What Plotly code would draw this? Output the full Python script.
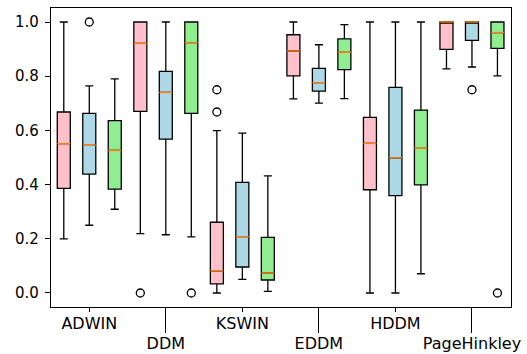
import plotly.graph_objects as go

detectors = ["ADWIN", "DDM", "KSWIN", "EDDM", "HDDM", "PageHinkley"]

# three series per detector (pink, blue, green): box statistics
pink_low    = [0.200, 0.219, 0.000, 0.716, 0.000, 0.827]
pink_q1     = [0.386, 0.670, 0.034, 0.801, 0.381, 0.899]
pink_median = [0.551, 0.921, 0.082, 0.893, 0.552, 1.000]
pink_q3     = [0.668, 1.000, 0.261, 0.953, 0.648, 1.000]
pink_high   = [1.000, 1.000, 0.599, 1.000, 1.000, 1.000]
pink_outliers = [[], [0.0], [0.750, 0.668], [], [], []]

blue_low    = [0.250, 0.215, 0.050, 0.701, 0.000, 0.834]
blue_q1     = [0.439, 0.568, 0.096, 0.745, 0.359, 0.932]
blue_median = [0.545, 0.740, 0.208, 0.776, 0.499, 1.000]
blue_q3     = [0.663, 0.818, 0.408, 0.829, 0.759, 1.000]
blue_high   = [0.764, 1.000, 0.590, 0.916, 1.000, 1.000]
blue_outliers = [[1.0], [], [], [], [], [0.750]]

green_low    = [0.309, 0.207, 0.006, 0.717, 0.071, 0.801]
green_q1     = [0.383, 0.663, 0.048, 0.824, 0.399, 0.903]
green_median = [0.526, 0.924, 0.074, 0.888, 0.534, 0.961]
green_q3     = [0.636, 1.000, 0.205, 0.938, 0.675, 1.000]
green_high   = [0.790, 1.000, 0.432, 0.990, 1.000, 1.000]
green_outliers = [[], [0.0], [], [], [], [0.0]]

y_ticks = [0.0, 0.2, 0.4, 0.6, 0.8, 1.0]

series = [
    ("pink", pink_low, pink_q1, pink_median, pink_q3, pink_high, pink_outliers),
    ("lightblue", blue_low, blue_q1, blue_median, blue_q3, blue_high, blue_outliers),
    ("lightgreen", green_low, green_q1, green_median, green_q3, green_high, green_outliers),
]

offsets = [-0.333, 0.0, 0.333]
box_w = 0.17
font = "DejaVu Sans"

fig = go.Figure()
pos_group = list(range(1, len(detectors) + 1))

for (color, lo, q1, med, q3, hi, outs), off in zip(series, offsets):
    xs = [p + off for p in pos_group]
    fig.add_trace(go.Box(
        x=xs, q1=q1, median=med, q3=q3, lowerfence=lo, upperfence=hi,
        width=box_w, whiskerwidth=0.62, fillcolor=color,
        line=dict(color="black", width=1.3), boxpoints=False,
        showlegend=False, hoverinfo="skip",
    ))
    # orange median lines
    mx, my = [], []
    for x, m in zip(xs, med):
        mx += [x - box_w / 2, x + box_w / 2, None]
        my += [m, m, None]
    fig.add_trace(go.Scatter(x=mx, y=my, mode="lines",
                             line=dict(color="#ff7f0e", width=1.4),
                             showlegend=False, hoverinfo="skip"))
    # outliers
    ox, oy = [], []
    for x, ol in zip(xs, outs):
        for v in ol:
            ox.append(x)
            oy.append(v)
    fig.add_trace(go.Scatter(x=ox, y=oy, mode="markers", xaxis="x2",
                             marker=dict(symbol="circle-open", size=8, color="black",
                                         line=dict(width=1.3)),
                             showlegend=False, hoverinfo="skip"))

xr = [0.5, 6.51]
even_idx = [i for i in range(len(detectors)) if i % 2 == 0]
odd_idx = [i for i in range(len(detectors)) if i % 2 == 1]

fig.update_layout(
    width=527, height=354,
    margin=dict(l=51, r=16, t=8, b=47),
    paper_bgcolor="white", plot_bgcolor="white",
    font=dict(family=font, size=15, color="black"),
    xaxis=dict(range=xr, tickmode="array", automargin=False,
               tickvals=[pos_group[i] for i in even_idx],
               ticktext=[detectors[i] for i in even_idx],
               ticks="outside", ticklen=4, tickwidth=1, tickcolor="black",
               ticklabelstandoff=-2,
               showline=True, linecolor="black", linewidth=1.2, mirror=True,
               showgrid=False, zeroline=False, tickfont=dict(size=16)),
    xaxis2=dict(range=xr, overlaying="x", anchor="y", side="bottom", tickmode="array",
                automargin=False,
                tickvals=[pos_group[i] for i in odd_idx],
                ticktext=[detectors[i] for i in odd_idx],
                ticks="outside", ticklen=25, tickwidth=1, tickcolor="black",
                ticklabelstandoff=-3,
                showline=False, showgrid=False, zeroline=False, tickfont=dict(size=16)),
    yaxis=dict(range=[-0.0517, 1.0517], tickmode="array", tickvals=y_ticks,
               automargin=False,
               ticktext=[f"{v:.1f}" for v in y_ticks],
               ticks="outside", ticklen=5, tickwidth=1, tickcolor="black",
               ticklabelstandoff=3,
               showline=True, linecolor="black", linewidth=1.2, mirror=True,
               showgrid=False, zeroline=False),
)

fig.write_html("out.html", config={"displayModeBar": False},
               post_script="document.body.style.margin='0';")
